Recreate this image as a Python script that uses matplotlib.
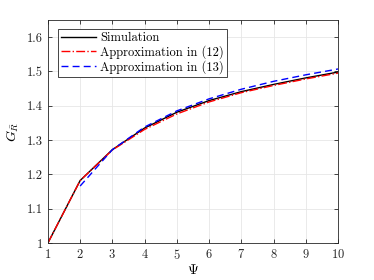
import matplotlib
matplotlib.use("Agg")
import matplotlib.pyplot as plt

psi = [1, 2, 3, 4, 5, 6, 7, 8, 9, 10]
sim = [1.0, 1.182, 1.272, 1.335, 1.381, 1.415, 1.441, 1.462, 1.481, 1.498]
approx12 = [1.0, 1.182, 1.271, 1.331, 1.376, 1.411, 1.438, 1.459, 1.478, 1.495]
psi13 = [2, 3, 4, 5, 6, 7, 8, 9, 10]
approx13 = [1.166, 1.272, 1.338, 1.385, 1.420, 1.448, 1.471, 1.490, 1.507]

plt.rcParams['font.family'] = ['cmr10', 'DejaVu Serif']
plt.rcParams['mathtext.fontset'] = 'cm'
plt.rcParams['axes.formatter.use_mathtext'] = True

fig = plt.figure(figsize=(3.74, 2.8), dpi=100)
ax = fig.add_axes([0.128, 0.132, 0.776, 0.797])

ax.plot(psi, sim, color='black', lw=1.0, label='Simulation')
ax.plot(psi, approx12, color='red', lw=1.0, ls='-.', label='Approximation in (12)')
ax.plot(psi13, approx13, color='blue', lw=1.0, ls=(0, (5, 3)), label='Approximation in (13)')

ax.set_xlim(1, 10)
ax.set_ylim(1, 1.65)
ax.set_xticks(range(1, 11))
ax.set_yticks([1, 1.1, 1.2, 1.3, 1.4, 1.5, 1.6])
ax.set_yticklabels(['1', '1.1', '1.2', '1.3', '1.4', '1.5', '1.6'])
ax.grid(True, color='#e6e6e6', lw=0.6)
ax.set_axisbelow(True)
ax.tick_params(direction='in', length=3, width=0.6, labelsize=9, top=True, right=True, colors='#262626')
for s in ax.spines.values():
    s.set_linewidth(0.6)
    s.set_color('#262626')

ax.set_xlabel(r'$\Psi$', fontsize=10, labelpad=1)
ax.set_ylabel(r'$G_{\bar{R}}$', fontsize=10, labelpad=4)

leg = ax.legend(loc='upper left', fontsize=9, frameon=True, fancybox=False,
                edgecolor='#262626', framealpha=1, handlelength=2.8,
                bbox_to_anchor=(0.035, 0.96), borderaxespad=0.0,
                labelspacing=0.1, handletextpad=0.3, borderpad=0.25)
leg.get_frame().set_linewidth(0.6)

fig.savefig('out.png', dpi=100)
